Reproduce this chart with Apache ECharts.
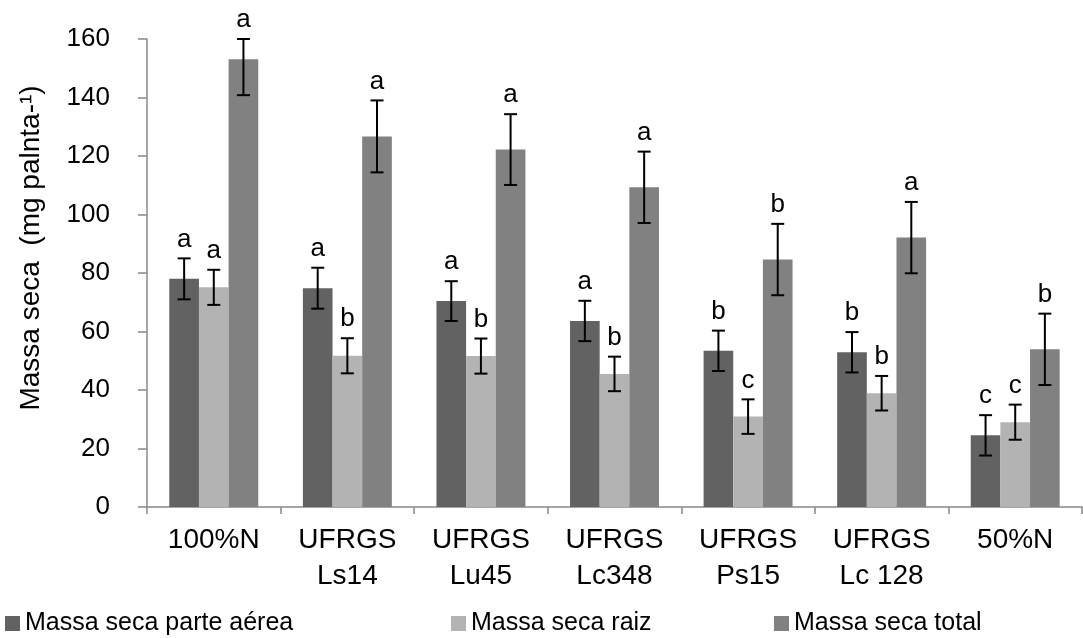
<!DOCTYPE html>
<html>
<head>
<meta charset="utf-8">
<script src="https://cdn.jsdelivr.net/npm/echarts@6/dist/echarts.min.js"></script>
<style>
  html, body { margin: 0; padding: 0; background: #fff; }
  #chart { width: 1083px; height: 638px; }
</style>
</head>
<body>
<div id="chart"></div>
<script>
// Treatments (x categories)
const categories = ['100%N', 'UFRGS\nLs14', 'UFRGS\nLu45', 'UFRGS\nLc348', 'UFRGS\nPs15', 'UFRGS\nLc 128', '50%N'];

// Dry mass means (mg per plant)
const massaAerea = [78.0, 74.8, 70.4, 63.6, 53.4, 52.9, 24.5];
const massaRaiz  = [75.1, 51.7, 51.6, 45.5, 30.9, 38.9, 29.0];
const massaTotal = [153.1, 126.7, 122.2, 109.3, 84.6, 92.1, 53.9];

// Error bar half-lengths
const erroAerea = [7.0, 7.0, 6.8, 6.9, 6.9, 6.9, 6.9];
const erroRaiz  = [6.0, 6.0, 6.0, 5.9, 5.9, 5.9, 6.0];
const erroTotal = [12.3, 12.3, 12.1, 12.2, 12.2, 12.2, 12.2];

// Mean-comparison letters
const letrasAerea = ['a', 'a', 'a', 'a', 'b', 'b', 'c'];
const letrasRaiz  = ['a', 'b', 'b', 'b', 'c', 'b', 'c'];
const letrasTotal = ['a', 'a', 'a', 'a', 'b', 'a', 'b'];

// Axis ticks
const yMin = 0, yMax = 160, yStep = 20;

const seriesNames = ['Massa seca parte aérea', 'Massa seca raiz', 'Massa seca total'];
const colors = ['#626262', '#b3b3b3', '#818181'];

const FONT = "'Liberation Sans', Arial, sans-serif";
const CAT_GAP = 0.334;

function errorSeries(k, values, errs, letters) {
  return {
    type: 'custom',
    name: seriesNames[k] + ' erro',
    z: 5,
    clip: false,
    data: values.map((v, i) => [i, v, errs[i]]),
    renderItem: function (params, api) {
      const i = api.value(0), v = api.value(1), e = api.value(2);
      const band = api.size([1, 0])[0];
      const bw = band * (1 - CAT_GAP) / 3;
      const x = api.coord([i, 0])[0] + (k - 1) * bw;
      const yTop = api.coord([i, Math.min(v + e, yMax)])[1];
      const yBot = api.coord([i, v - e])[1];
      const cap = 6.5;
      const st = { stroke: '#000', lineWidth: 2 };
      return {
        type: 'group',
        children: [
          { type: 'line', shape: { x1: x, y1: yTop, x2: x, y2: yBot }, style: st },
          { type: 'line', shape: { x1: x - cap, y1: yTop, x2: x + cap, y2: yTop }, style: st },
          { type: 'line', shape: { x1: x - cap, y1: yBot, x2: x + cap, y2: yBot }, style: st },
          {
            type: 'text',
            style: {
              x: x, y: yTop - 6,
              text: letters[params.dataIndex],
              font: '26px ' + FONT,
              fill: '#000',
              align: 'center',
              verticalAlign: 'bottom'
            }
          }
        ]
      };
    }
  };
}

const chart = echarts.init(document.getElementById('chart'), null, { renderer: 'canvas' });

const legendBase = {
  icon: 'rect', itemWidth: 15, itemHeight: 15, top: 606,
  textStyle: { fontFamily: FONT, fontSize: 25, color: '#000' }
};

chart.setOption({
  animation: false,
  backgroundColor: '#fff',
  grid: { left: 147, right: 1, top: 39, bottom: 131, containLabel: false },
  legend: [
    Object.assign({}, legendBase, { left: 0, data: [seriesNames[0]] }),
    Object.assign({}, legendBase, { left: 446, data: [seriesNames[1]] }),
    Object.assign({}, legendBase, { left: 769, data: [seriesNames[2]] })
  ],
  xAxis: {
    type: 'category',
    data: categories,
    axisLine: { lineStyle: { color: '#888', width: 1.5 } },
    axisTick: { show: true, length: 7, lineStyle: { color: '#888', width: 1.5 } },
    axisLabel: { fontFamily: FONT, fontSize: 28, color: '#000', lineHeight: 36, margin: 15, interval: 0 }
  },
  yAxis: {
    type: 'value',
    min: yMin, max: yMax, interval: yStep,
    name: 'Massa seca  (mg palnta-¹)',
    nameLocation: 'middle',
    nameGap: 102,
    nameTextStyle: { fontFamily: FONT, fontSize: 28, color: '#000', padding: [0, 0, 0, 50] },
    axisLine: { show: true, lineStyle: { color: '#888', width: 1.5 } },
    axisTick: { show: true, length: 9, lineStyle: { color: '#888', width: 1.5 } },
    splitLine: { show: false },
    axisLabel: { fontFamily: FONT, fontSize: 26, color: '#000', margin: 37 }
  },
  series: [
    { type: 'bar', name: seriesNames[0], data: massaAerea, itemStyle: { color: colors[0] }, barGap: '0%', barCategoryGap: (CAT_GAP * 100) + '%' },
    { type: 'bar', name: seriesNames[1], data: massaRaiz, itemStyle: { color: colors[1] }, barGap: '0%', barCategoryGap: (CAT_GAP * 100) + '%' },
    { type: 'bar', name: seriesNames[2], data: massaTotal, itemStyle: { color: colors[2] }, barGap: '0%', barCategoryGap: (CAT_GAP * 100) + '%' },
    errorSeries(0, massaAerea, erroAerea, letrasAerea),
    errorSeries(1, massaRaiz, erroRaiz, letrasRaiz),
    errorSeries(2, massaTotal, erroTotal, letrasTotal)
  ]
});
</script>
</body>
</html>
